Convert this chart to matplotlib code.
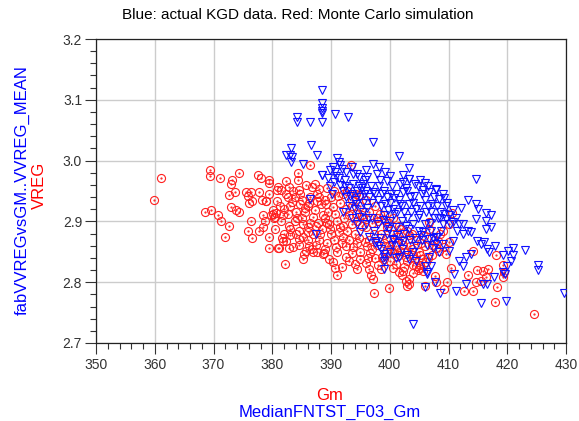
import matplotlib
matplotlib.use("Agg")
import matplotlib.pyplot as plt
from matplotlib.ticker import MultipleLocator, FormatStrFormatter

# Monte Carlo simulation (red), Gm vs VREG
red_gm = [
    361.0, 359.8, 369.4, 369.4, 371.1, 374.3, 368.5, 369.6, 370.8, 371.2, 372.6, 371.9,
    373.1, 373.0, 372.6, 373.7, 373.0, 373.9, 374.3, 375.5, 376.3, 375.9, 376.0, 376.5,
    377.7, 377.6, 378.1, 379.5, 379.5, 378.2, 378.9, 379.4, 380.8, 380.8, 376.3, 375.9,
    376.6, 377.7, 378.4, 379.4, 379.5, 380.5, 381.0, 378.5, 378.7, 380.1, 380.4, 380.7,
    380.3, 386.5, 384.4, 384.4, 381.0, 381.5, 382.3, 382.9, 384.5, 386.7, 388.0, 389.3,
    382.7, 383.8, 379.0, 380.1, 379.8, 381.8, 384.7, 386.0, 387.7, 389.2, 390.3, 385.5,
    386.9, 388.6, 383.8, 385.2, 387.5, 389.7, 382.9, 381.2, 381.6, 382.4, 382.8, 383.1,
    382.2, 384.6, 384.5, 385.2, 385.4, 385.8, 386.3, 387.0, 387.7, 388.6, 389.7, 390.3,
    390.6, 391.0, 391.9, 394.1, 394.5, 396.5, 396.8, 397.1, 397.4, 399.9, 400.5, 401.6,
    402.2, 402.7, 403.0, 403.3, 405.0, 405.6, 407.7, 393.4, 394.8, 392.0,
    410.6, 410.1, 409.0, 410.1, 407.8, 408.4, 409.5, 406.7, 406.6, 407.8, 409.3, 409.8,
    403.3, 406.0, 410.4, 412.6, 414.1, 414.6, 415.5, 413.4, 414.8, 415.8, 416.7, 416.3,
    418.3, 418.1, 419.2, 419.4, 419.3, 417.9, 424.5, 414.2,
    384.0, 385.0, 386.0, 387.0, 388.0, 388.5, 389.0, 389.5, 390.0, 390.5, 391.0, 391.5,
    392.0, 392.5, 393.0, 393.5, 394.0, 394.5, 395.0, 395.5, 396.0, 396.5, 397.0, 397.5,
    398.0, 398.5, 399.0, 399.5, 400.0, 400.5, 401.0, 401.5, 402.0, 402.5, 403.0, 403.5,
    404.0, 404.5, 405.0, 405.5, 406.0, 391.5, 392.5, 393.5, 395.0, 396.5, 397.5, 399.0,
    400.5, 390.0, 388.0, 386.5, 385.0, 383.0, 382.0, 381.5, 383.0, 384.5, 386.0, 387.5,
    389.0, 391.0, 392.5, 393.5, 395.0, 396.0, 398.0, 399.0, 401.0, 402.5, 404.0, 406.5,
    407.5, 408.5, 403.0, 401.5, 399.5, 397.0, 394.5, 392.0, 389.8, 387.8, 386.0, 384.0,
    382.0, 404.5, 405.2, 404.8,
    381.3, 382.6, 383.4, 384.2, 385.6, 386.4, 387.2, 388.3, 389.4, 390.6, 391.3, 392.2,
    393.1, 394.2, 395.3, 396.2, 397.3, 398.3, 399.3, 400.2, 401.2, 402.3, 403.2, 404.3,
    405.3, 381.8, 383.6, 385.3, 386.8, 388.2, 389.3, 390.8, 392.8, 394.8, 396.7, 398.7,
    400.8, 402.8, 384.8, 386.2, 387.6, 389.0, 391.2, 392.8, 394.2, 396.0, 382.3, 383.5,
    385.8, 387.2, 390.5, 393.5, 395.3, 397.8, 399.8, 401.8, 403.8, 405.8, 407.2, 408.2,
    409.2, 388.8, 391.8, 393.8, 395.8, 397.8, 399.8, 401.8, 403.8, 405.2, 406.2, 407.2,
    402.0, 404.0, 398.5, 393.0, 396.3,
]
red_vreg = [
    2.972, 2.936, 2.985, 2.975, 2.971, 2.979, 2.916, 2.919, 2.911, 2.900, 2.893, 2.875,
    2.968, 2.962, 2.944, 2.948, 2.923, 2.919, 2.916, 2.948, 2.948, 2.941, 2.930, 2.934,
    2.948, 2.977, 2.971, 2.968, 2.963, 2.935, 2.933, 2.945, 2.952, 2.933, 2.900, 2.885,
    2.873, 2.885, 2.890, 2.874, 2.856, 2.888, 2.856, 2.911, 2.900, 2.912, 2.908, 2.914,
    2.905, 2.992, 2.980, 2.968, 2.956, 2.951, 2.967, 2.956, 2.951, 2.956, 2.954, 2.955,
    2.940, 2.940, 2.934, 2.918, 2.910, 2.910, 2.929, 2.926, 2.934, 2.929, 2.923, 2.915,
    2.907, 2.910, 2.901, 2.896, 2.893, 2.896, 2.893, 2.856, 2.873, 2.868, 2.856, 2.878,
    2.830, 2.871, 2.885, 2.838, 2.846, 2.852, 2.860, 2.850, 2.849, 2.846, 2.838, 2.833,
    2.824, 2.812, 2.825, 2.830, 2.822, 2.822, 2.812, 2.805, 2.783, 2.790, 2.823, 2.816,
    2.819, 2.802, 2.794, 2.805, 2.824, 2.819, 2.811, 2.992, 2.943, 2.945,
    2.914, 2.896, 2.885, 2.866, 2.857, 2.852, 2.846, 2.899, 2.888, 2.800, 2.789, 2.801,
    2.797, 2.794, 2.824, 2.786, 2.786, 2.800, 2.802, 2.812, 2.820, 2.819, 2.822, 2.808,
    2.792, 2.845, 2.829, 2.816, 2.808, 2.767, 2.747, 2.852,
    2.915, 2.905, 2.890, 2.880, 2.870, 2.888, 2.905, 2.915, 2.880, 2.870, 2.900, 2.890,
    2.875, 2.860, 2.910, 2.895, 2.880, 2.865, 2.850, 2.905, 2.890, 2.870, 2.855, 2.840,
    2.900, 2.880, 2.865, 2.850, 2.835, 2.880, 2.860, 2.845, 2.870, 2.850, 2.835, 2.860,
    2.845, 2.870, 2.850, 2.838, 2.860, 2.930, 2.920, 2.935, 2.925, 2.915, 2.925, 2.910,
    2.905, 2.940, 2.940, 2.940, 2.935, 2.925, 2.920, 2.900, 2.888, 2.862, 2.870, 2.862,
    2.855, 2.850, 2.842, 2.848, 2.838, 2.832, 2.828, 2.838, 2.830, 2.825, 2.828, 2.840,
    2.870, 2.880, 2.885, 2.893, 2.890, 2.897, 2.900, 2.893, 2.888, 2.897, 2.883, 2.880,
    2.880, 2.826, 2.829, 2.820,
    2.925, 2.912, 2.932, 2.905, 2.922, 2.898, 2.918, 2.928, 2.898, 2.912, 2.882, 2.905,
    2.870, 2.912, 2.892, 2.860, 2.880, 2.912, 2.872, 2.855, 2.875, 2.862, 2.878, 2.838,
    2.864, 2.868, 2.858, 2.875, 2.855, 2.880, 2.865, 2.858, 2.885, 2.872, 2.848, 2.842,
    2.848, 2.842, 2.945, 2.930, 2.945, 2.935, 2.942, 2.950, 2.945, 2.935, 2.945, 2.950,
    2.960, 2.962, 2.950, 2.925, 2.910, 2.905, 2.898, 2.888, 2.880, 2.876, 2.862, 2.868,
    2.858, 2.848, 2.865, 2.858, 2.866, 2.862, 2.860, 2.852, 2.855, 2.845, 2.833, 2.845,
    2.812, 2.815, 2.822, 2.835, 2.840,
]

# actual KGD data (blue), MedianFNTST_F03_Gm vs fabVVREGvsGM..VVREG_MEAN
blue_gm = [
    388.5, 388.5, 388.5, 388.5, 388.5, 390.7, 392.9, 384.2, 384.2, 386.4, 388.5, 386.6,
    383.2, 382.3, 383.1, 383.3, 383.2, 387.6, 385.2, 388.5, 386.5, 397.2, 401.6, 403.3,
    388.5, 391.0, 391.4, 391.6, 391.8, 390.3, 390.6, 390.9, 393.6, 394.5, 396.2, 397.2,
    398.1, 399.5, 402.3, 403.3, 392.6, 393.7, 394.8, 395.4, 402.2, 406.0, 407.8, 406.7,
    387.5, 399.1, 399.1, 399.1, 399.1, 406.0, 406.4, 407.0, 407.7, 404.0,
    403.3, 407.8, 408.3, 409.3, 414.7, 413.3, 414.6, 415.1, 412.2, 416.4, 417.2, 416.4,
    417.2, 416.3, 414.6, 408.6, 409.5, 410.7, 411.8, 412.4, 413.4, 413.8, 411.5, 412.4,
    414.9, 415.5, 416.0, 417.9, 416.6, 416.9, 420.1, 421.0, 420.9, 420.6, 419.3, 423.1,
    425.3, 425.3, 420.0, 419.7, 429.6, 419.8, 415.5, 417.7, 419.2, 415.8, 416.6, 413.0,
    411.2, 408.6, 406.4, 410.9, 412.4, 411.8, 412.9, 413.8, 410.1, 410.7, 409.0, 407.8,
    407.3, 406.7, 406.0,
    391.5, 392.0, 392.5, 393.0, 393.5, 394.0, 394.5, 395.0, 395.5, 396.0, 396.5, 397.0,
    397.5, 398.0, 398.5, 399.0, 399.5, 400.0, 400.5, 401.0, 401.5, 402.0, 402.5, 403.0,
    403.5, 404.0, 404.5, 405.0, 405.5, 406.0, 406.5, 407.0, 407.5, 408.0, 408.5, 409.0,
    409.5, 410.0, 399.0, 400.0, 401.0, 402.0, 403.0, 404.0, 405.0, 406.0, 407.0, 408.0,
    398.0, 397.0, 396.0, 395.5, 394.0, 393.0, 392.0, 399.5, 400.5, 401.5, 402.5, 403.5,
    404.5, 405.5, 396.5, 397.5, 398.5, 400.0, 401.0, 402.0, 403.0, 404.0, 394.5, 395.0,
    393.5, 390.5, 389.8, 390.2, 389.5, 389.9, 395.8, 396.8, 398.4, 400.3, 401.8, 404.8,
    405.2, 400.0, 399.2, 397.8, 396.0, 392.4, 393.8, 394.8,
    397.6, 398.2, 400.5, 401.6, 403.3, 404.4, 399.9, 405.6, 406.7, 407.8, 408.4,
    393.2, 394.2, 395.2, 396.2, 397.2, 398.2, 399.2, 400.2, 401.2, 402.2, 403.2, 404.2,
    405.2, 406.2, 407.2, 408.2, 409.2, 410.2, 398.8, 400.8, 402.8, 404.8, 406.8, 408.8,
    397.3, 399.3, 401.3, 403.3, 405.3, 407.3, 398.3, 400.3, 402.3, 404.3, 406.3, 396.3,
    394.7, 395.7, 400.7, 402.7, 405.7, 403.7, 399.7, 391.3, 392.3, 398.7, 401.7, 404.3,
    406.5, 407.5, 409.8, 410.8, 411.2, 409.0,
]
blue_vreg = [
    3.116, 3.095, 3.086, 3.082, 3.078, 3.077, 3.071, 3.071, 3.064, 3.064, 3.064, 3.026,
    3.020, 3.010, 3.010, 3.006, 2.998, 3.010, 2.995, 2.977, 2.937, 3.031, 3.007, 2.988,
    2.976, 3.004, 2.998, 2.992, 2.986, 2.990, 2.982, 2.975, 2.989, 2.978, 2.973, 2.994,
    2.989, 2.966, 2.976, 2.970, 2.981, 2.978, 2.973, 2.962, 2.965, 2.963, 2.954, 2.948,
    2.879, 2.822, 2.835, 2.841, 2.846, 2.792, 2.816, 2.827, 2.800, 2.731,
    2.969, 2.952, 2.937, 2.939, 2.969, 2.935, 2.929, 2.921, 2.922, 2.913, 2.910, 2.901,
    2.890, 2.888, 2.904, 2.905, 2.904, 2.899, 2.895, 2.896, 2.885, 2.882, 2.885, 2.879,
    2.868, 2.863, 2.866, 2.860, 2.855, 2.849, 2.852, 2.856, 2.844, 2.835, 2.844, 2.853,
    2.828, 2.820, 2.827, 2.813, 2.783, 2.769, 2.766, 2.808, 2.816, 2.797, 2.797, 2.797,
    2.786, 2.783, 2.813, 2.813, 2.827, 2.835, 2.841, 2.846, 2.852, 2.868, 2.863, 2.874,
    2.857, 2.841, 2.827,
    2.960, 2.950, 2.940, 2.955, 2.945, 2.935, 2.950, 2.940, 2.930, 2.950, 2.940, 2.930,
    2.945, 2.935, 2.925, 2.950, 2.940, 2.930, 2.920, 2.945, 2.935, 2.925, 2.915, 2.950,
    2.940, 2.930, 2.920, 2.910, 2.945, 2.935, 2.925, 2.915, 2.905, 2.925, 2.915, 2.895,
    2.925, 2.910, 2.910, 2.900, 2.890, 2.900, 2.905, 2.895, 2.885, 2.895, 2.885, 2.875,
    2.895, 2.905, 2.895, 2.915, 2.920, 2.925, 2.915, 2.880, 2.870, 2.865, 2.880, 2.870,
    2.860, 2.870, 2.875, 2.865, 2.855, 2.850, 2.840, 2.855, 2.845, 2.850, 2.895, 2.882,
    2.905, 2.965, 2.958, 2.945, 2.972, 2.985, 2.968, 2.958, 2.968, 2.958, 2.962, 2.958,
    2.968, 2.975, 2.982, 2.978, 2.985, 2.968, 2.962, 2.958,
    2.868, 2.860, 2.871, 2.841, 2.838, 2.835, 2.888, 2.882, 2.871, 2.863, 2.849,
    2.942, 2.928, 2.955, 2.922, 2.948, 2.958, 2.928, 2.945, 2.915, 2.948, 2.928, 2.942,
    2.925, 2.915, 2.928, 2.905, 2.912, 2.895, 2.902, 2.912, 2.893, 2.905, 2.898, 2.885,
    2.885, 2.892, 2.878, 2.888, 2.878, 2.872, 2.872, 2.862, 2.868, 2.872, 2.862, 2.905,
    2.908, 2.945, 2.938, 2.955, 2.952, 2.915, 2.918, 2.972, 2.958, 2.945, 2.928, 2.962,
    2.958, 2.940, 2.930, 2.918, 2.905, 2.945,
]

plt.rcParams['font.family'] = ['Liberation Sans', 'DejaVu Sans']

fig = plt.figure(figsize=(5.79, 4.21), dpi=100)
ax = fig.add_axes([96 / 579, 1 - 343 / 421, 470 / 579, 304 / 421])

ax.plot(red_gm, red_vreg, 'o', mfc='none', mec='#ff2020', ms=5.8, mew=0.8, zorder=3)
ax.plot(red_gm, red_vreg, '.', color='#ff2020', ms=1.2, zorder=3)
ax.plot(blue_gm, blue_vreg, 'v', mfc='none', mec='#1010ff', ms=6, mew=0.8, zorder=4)

ax.set_xlim(350, 430)
ax.set_ylim(2.7, 3.2)
ax.xaxis.set_major_locator(MultipleLocator(10))
ax.xaxis.set_minor_locator(MultipleLocator(2))
ax.yaxis.set_major_locator(MultipleLocator(0.1))
ax.yaxis.set_minor_locator(MultipleLocator(0.02))
ax.yaxis.set_major_formatter(FormatStrFormatter('%.1f'))
ax.grid(True, which='major', color='#cccccc', lw=1.0, zorder=0)
ax.tick_params(which='major', direction='out', length=8, width=0.8, color='#333333',
               labelsize=10, labelcolor='#333333', pad=2)
ax.tick_params(which='minor', direction='out', length=4, width=0.8, color='#333333')
ax.tick_params(axis='x', which='major', pad=3)
for s in ax.spines.values():
    s.set_color('#222222')
    s.set_linewidth(0.9)

fig.text(298 / 579, 1 - 15 / 421, 'Blue: actual KGD data. Red: Monte Carlo simulation',
         ha='center', va='center', fontsize=11, color='black')
fig.text(330 / 579, 1 - 396 / 421, 'Gm', ha='center', va='center', fontsize=12, color='red')
fig.text(330 / 579, 1 - 412 / 421, 'MedianFNTST_F03_Gm', ha='center', va='center',
         fontsize=12, color='blue')
fig.text(22 / 579, 1 - 190 / 421, 'fabVVREGvsGM..VVREG_MEAN', ha='center', va='center',
         rotation=90, fontsize=12, color='blue')
fig.text(39 / 579, 1 - 185 / 421, 'VREG', ha='center', va='center', rotation=90,
         fontsize=12, color='red')

fig.savefig('out.png', dpi=100)
